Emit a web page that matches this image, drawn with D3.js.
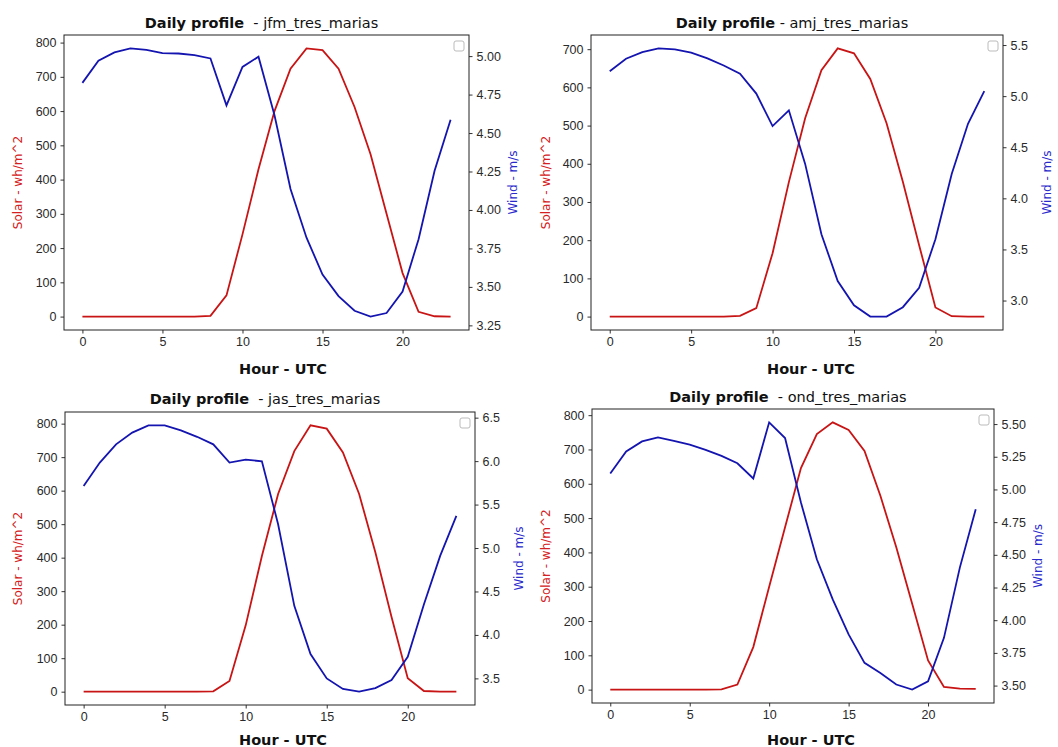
<!DOCTYPE html>
<html lang="en">
<head>
<meta charset="UTF-8">
<title>Daily profile - tres_marias</title>
<script src="https://d3js.org/d3.v7.min.js"></script>
<style>
    body { margin: 0; background: #fff; }
    svg { font-family: "DejaVu Sans", sans-serif; }
    .tick text { font-size: 12.5px; fill: #2a2a2a; }
    .tick line { stroke: #333; }
    .domain { display: none; }
    .frame { fill: none; stroke: #222; stroke-width: 1; }
    .title { font-size: 14.5px; fill: #111; }
    .xlabel { font-size: 14.5px; font-weight: bold; fill: #111; text-anchor: middle; }
    .ylabel { font-size: 12px; text-anchor: middle; }
</style>
</head>
<body>
<script>
// hours of the day (x axis)
const hours = [0,1,2,3,4,5,6,7,8,9,10,11,12,13,14,15,16,17,18,19,20,21,22,23];

const seasons = ["jfm_tres_marias", "amj_tres_marias", "jas_tres_marias", "ond_tres_marias"];

// solar - wh/m^2
const solarJfm = [0,0,0,0,0,0,0,0,2,62,240,430,600,724,783,778,724,612,474,300,127,14,1,0];
const solarAmj = [0,0,0,0,0,0,0,0,2,22,166,352,519,645,702,689,622,506,353,187,24,1,0,0];
const solarJas = [0,0,0,0,0,0,0,0,1,32,198,405,590,718,795,785,714,590,416,223,40,2,0,0];
const solarOnd = [0,0,0,0,0,0,0,1,15,124,300,473,646,745,779,757,696,565,415,250,85,8,3,2];

// wind - m/s
const windJfm = [4.826,4.97,5.024,5.05,5.04,5.02,5.017,5.007,4.985,4.68,4.93,4.996,4.615,4.136,3.82,3.58,3.44,3.345,3.307,3.33,3.47,3.81,4.255,4.586];
const windAmj = [5.244,5.366,5.43,5.467,5.457,5.425,5.37,5.30,5.22,5.025,4.707,4.861,4.337,3.649,3.19,2.954,2.843,2.843,2.935,3.125,3.6,4.239,4.73,5.05];
const windJas = [5.715,5.983,6.193,6.328,6.412,6.412,6.354,6.28,6.193,5.983,6.017,5.998,5.274,4.335,3.78,3.5,3.378,3.347,3.389,3.481,3.749,4.354,4.91,5.37];
const windOnd = [5.122,5.29,5.367,5.398,5.372,5.342,5.303,5.257,5.2,5.084,5.513,5.393,4.9,4.466,4.159,3.891,3.674,3.597,3.508,3.469,3.533,3.865,4.402,4.849];

// tick labels
const xTicks = [0, 5, 10, 15, 20];
const solarTickStep = [100, 100, 100, 100];
const windTickStep = [0.25, 0.5, 0.5, 0.25];
const windTickFmt = [".2f", ".1f", ".1f", ".2f"];
const titleGaps = ["  - ", " - ", "  - ", "  - "];

const solarSeries = [solarJfm, solarAmj, solarJas, solarOnd];
const windSeries = [windJfm, windAmj, windJas, windOnd];

// panel frames on the page
const layout = [
    { x0: 0,   left: 64,  right: 469,  top: 35,  bottom: 330, titleY: 28,  xlabY: 374 },
    { x0: 528, left: 591, right: 1003, top: 35,  bottom: 330, titleY: 28,  xlabY: 374 },
    { x0: 0,   left: 65,  right: 475,  top: 412, bottom: 705, titleY: 404, xlabY: 745 },
    { x0: 528, left: 592, right: 994,  top: 409, bottom: 703, titleY: 402, xlabY: 745 }
];

const RED = "#c81414", BLUE = "#1414b0";

const svg = d3.select("body").append("svg")
    .attr("width", 1058)
    .attr("height", 747);

const padded = (lo, hi) => {
    const m = (hi - lo) * 0.05;
    return [lo - m, hi + m];
};

const drawPanel = (i) => {
    const L = layout[i];
    const solar = solarSeries[i], wind = windSeries[i];
    const g = svg.append("g");

    const x = d3.scaleLinear()
        .domain(padded(d3.min(hours), d3.max(hours)))
        .range([L.left, L.right]);
    const yS = d3.scaleLinear()
        .domain(padded(d3.min(solar), d3.max(solar)))
        .range([L.bottom, L.top]);
    const yW = d3.scaleLinear()
        .domain(padded(d3.min(wind), d3.max(wind)))
        .range([L.bottom, L.top]);

    const sTicks = d3.range(0, yS.domain()[1], solarTickStep[i]);
    const st = windTickStep[i];
    const wTicks = d3.range(Math.ceil(yW.domain()[0] / st) * st, yW.domain()[1] + 1e-9, st);

    g.append("g")
        .attr("transform", `translate(0,${L.bottom})`)
        .call(d3.axisBottom(x).tickValues(xTicks).tickSize(3.5).tickPadding(4).tickFormat(d3.format("d")));
    g.append("g")
        .attr("transform", `translate(${L.left},0)`)
        .call(d3.axisLeft(yS).tickValues(sTicks).tickSize(3.5).tickPadding(4).tickFormat(d3.format("d")));
    g.append("g")
        .attr("transform", `translate(${L.right},0)`)
        .call(d3.axisRight(yW).tickValues(wTicks).tickSize(3.5).tickPadding(4).tickFormat(d3.format(windTickFmt[i])));

    const lineS = d3.line().x((d, k) => x(hours[k])).y(d => yS(d));
    const lineW = d3.line().x((d, k) => x(hours[k])).y(d => yW(d));

    g.append("path").datum(solar)
        .attr("d", lineS).attr("fill", "none")
        .attr("stroke", RED).attr("stroke-width", 1.8);
    g.append("path").datum(wind)
        .attr("d", lineW).attr("fill", "none")
        .attr("stroke", BLUE).attr("stroke-width", 1.8);

    g.append("rect").attr("class", "frame")
        .attr("x", L.left).attr("y", L.top)
        .attr("width", L.right - L.left).attr("height", L.bottom - L.top);

    // empty legend box
    g.append("rect")
        .attr("x", L.right - 15).attr("y", L.top + 6)
        .attr("width", 10).attr("height", 10).attr("rx", 2)
        .attr("fill", "none").attr("stroke", "#bbb").attr("stroke-width", 1);

    const title = g.append("text").attr("class", "title")
        .attr("x", (L.left + L.right) / 2 - 5).attr("y", L.titleY)
        .attr("text-anchor", "middle")
        .attr("xml:space", "preserve");
    title.append("tspan").attr("font-weight", "bold").text("Daily profile");
    title.append("tspan").text(titleGaps[i] + seasons[i]);

    g.append("text").attr("class", "xlabel")
        .attr("x", L.x0 + 283).attr("y", L.xlabY)
        .text("Hour - UTC");

    const midY = (L.top + L.bottom) / 2;
    g.append("text").attr("class", "ylabel")
        .attr("transform", `translate(${L.x0 + 22},${midY}) rotate(-90)`)
        .attr("fill", "#d42020")
        .text("Solar - wh/m^2");
    g.append("text").attr("class", "ylabel")
        .attr("transform", `translate(${L.right + 48},${midY}) rotate(-90)`)
        .attr("fill", "#2a2acc")
        .text("Wind - m/s");
};

seasons.forEach((s, i) => drawPanel(i));
</script>
</body>
</html>
